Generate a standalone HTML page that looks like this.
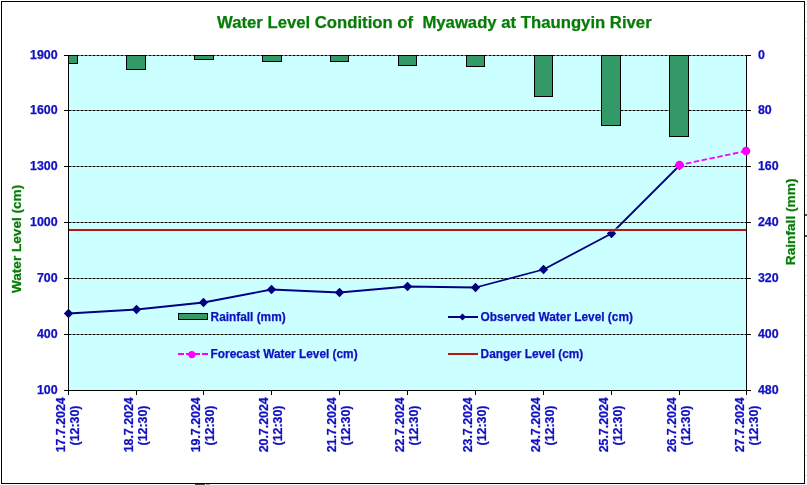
<!DOCTYPE html>
<html lang="en"><head><meta charset="utf-8"><title>Water Level Condition of Myawady at Thaungyin River</title>
<style>html,body{margin:0;padding:0;background:#fff;overflow:hidden}svg{display:block;will-change:transform}text{font-family:"Liberation Sans",sans-serif;font-weight:bold;stroke-width:0.25px;paint-order:stroke}</style>
</head><body>
<svg width="807" height="485" viewBox="0 0 807 485">
<rect x="0" y="0" width="807" height="485" fill="#fff"/>
<g shape-rendering="crispEdges">
<rect x="805" y="4" width="2" height="1" fill="#dcdcdc"/>
<rect x="805" y="21" width="2" height="1" fill="#dcdcdc"/>
<rect x="805" y="38" width="2" height="1" fill="#dcdcdc"/>
<rect x="805" y="55" width="2" height="1" fill="#dcdcdc"/>
<rect x="805" y="75" width="2" height="1" fill="#dcdcdc"/>
<rect x="805" y="95" width="2" height="1" fill="#dcdcdc"/>
<rect x="805" y="115" width="2" height="1" fill="#dcdcdc"/>
<rect x="805" y="135" width="2" height="1" fill="#dcdcdc"/>
<rect x="805" y="155" width="2" height="1" fill="#dcdcdc"/>
<rect x="805" y="175" width="2" height="1" fill="#dcdcdc"/>
<rect x="805" y="195" width="2" height="1" fill="#dcdcdc"/>
<rect x="805" y="255" width="2" height="1" fill="#dcdcdc"/>
<rect x="805" y="275" width="2" height="1" fill="#dcdcdc"/>
<rect x="805" y="295" width="2" height="1" fill="#dcdcdc"/>
<rect x="805" y="315" width="2" height="1" fill="#dcdcdc"/>
<rect x="805" y="335" width="2" height="1" fill="#dcdcdc"/>
<rect x="805" y="355" width="2" height="1" fill="#dcdcdc"/>
<rect x="805" y="375" width="2" height="1" fill="#dcdcdc"/>
<rect x="805" y="395" width="2" height="1" fill="#dcdcdc"/>
<rect x="805" y="415" width="2" height="1" fill="#dcdcdc"/>
<rect x="805" y="435" width="2" height="1" fill="#dcdcdc"/>
<rect x="805" y="455" width="2" height="1" fill="#dcdcdc"/>
<rect x="805" y="475" width="2" height="1" fill="#dcdcdc"/>
<rect x="805" y="214" width="2" height="2" fill="#1f6b55"/>
<rect x="805" y="235" width="2" height="2" fill="#1f6b55"/>
<rect x="195" y="484" width="10" height="1" fill="#444"/><rect x="206" y="484" width="4" height="1" fill="#aaa"/>
<rect x="1.5" y="1.5" width="803" height="482" fill="#fff" stroke="#000" stroke-width="1"/>
<rect x="68" y="55" width="679" height="336" fill="#ccffff"/>
<rect x="64" y="55" width="687" height="1" fill="#000" opacity="0.5"/>
<line x1="69" y1="55.5" x2="746" y2="55.5" stroke="#000" stroke-width="1" stroke-dasharray="2 2" stroke-dashoffset="0"/>
<rect x="64" y="55" width="7" height="1" fill="#000"/>
<rect x="746" y="55" width="5" height="1" fill="#000"/>
<rect x="64" y="110" width="687" height="1" fill="#000" opacity="0.5"/>
<line x1="69" y1="110.5" x2="746" y2="110.5" stroke="#000" stroke-width="1" stroke-dasharray="2 2" stroke-dashoffset="0"/>
<rect x="64" y="110" width="7" height="1" fill="#000"/>
<rect x="746" y="110" width="5" height="1" fill="#000"/>
<rect x="64" y="166" width="687" height="1" fill="#000" opacity="0.5"/>
<line x1="69" y1="166.5" x2="746" y2="166.5" stroke="#000" stroke-width="1" stroke-dasharray="2 2" stroke-dashoffset="0"/>
<rect x="64" y="166" width="7" height="1" fill="#000"/>
<rect x="746" y="166" width="5" height="1" fill="#000"/>
<rect x="64" y="222" width="687" height="1" fill="#000" opacity="0.5"/>
<line x1="69" y1="222.5" x2="746" y2="222.5" stroke="#000" stroke-width="1" stroke-dasharray="2 2" stroke-dashoffset="0"/>
<rect x="64" y="222" width="7" height="1" fill="#000"/>
<rect x="746" y="222" width="5" height="1" fill="#000"/>
<rect x="64" y="278" width="687" height="1" fill="#000" opacity="0.5"/>
<line x1="69" y1="278.5" x2="746" y2="278.5" stroke="#000" stroke-width="1" stroke-dasharray="2 2" stroke-dashoffset="0"/>
<rect x="64" y="278" width="7" height="1" fill="#000"/>
<rect x="746" y="278" width="5" height="1" fill="#000"/>
<rect x="64" y="334" width="687" height="1" fill="#000" opacity="0.5"/>
<line x1="69" y1="334.5" x2="746" y2="334.5" stroke="#000" stroke-width="1" stroke-dasharray="2 2" stroke-dashoffset="0"/>
<rect x="64" y="334" width="7" height="1" fill="#000"/>
<rect x="746" y="334" width="5" height="1" fill="#000"/>
</g>
<g shape-rendering="crispEdges">
<rect x="68.5" y="55.5" width="9" height="8" fill="#339966" stroke="#000" stroke-width="1"/>
<rect x="126.5" y="55.5" width="19" height="14" fill="#339966" stroke="#000" stroke-width="1"/>
<rect x="194.5" y="55.5" width="19" height="4" fill="#339966" stroke="#000" stroke-width="1"/>
<rect x="262.5" y="55.5" width="19" height="6" fill="#339966" stroke="#000" stroke-width="1"/>
<rect x="330.5" y="55.5" width="18" height="6" fill="#339966" stroke="#000" stroke-width="1"/>
<rect x="398.5" y="55.5" width="18" height="10" fill="#339966" stroke="#000" stroke-width="1"/>
<rect x="466.5" y="55.5" width="18" height="11" fill="#339966" stroke="#000" stroke-width="1"/>
<rect x="534.5" y="55.5" width="18" height="41" fill="#339966" stroke="#000" stroke-width="1"/>
<rect x="601.5" y="55.5" width="19" height="70" fill="#339966" stroke="#000" stroke-width="1"/>
<rect x="669.5" y="55.5" width="19" height="81" fill="#339966" stroke="#000" stroke-width="1"/>
<rect x="68" y="55" width="1" height="340" fill="#000"/>
<rect x="746" y="55" width="1" height="340" fill="#000"/>
<rect x="64" y="390" width="687" height="1" fill="#000"/>
<rect x="136" y="390" width="1" height="5" fill="#000"/>
<rect x="203" y="390" width="1" height="5" fill="#000"/>
<rect x="271" y="390" width="1" height="5" fill="#000"/>
<rect x="339" y="390" width="1" height="5" fill="#000"/>
<rect x="407" y="390" width="1" height="5" fill="#000"/>
<rect x="475" y="390" width="1" height="5" fill="#000"/>
<rect x="543" y="390" width="1" height="5" fill="#000"/>
<rect x="611" y="390" width="1" height="5" fill="#000"/>
<rect x="679" y="390" width="1" height="5" fill="#000"/>
</g>
<polyline fill="none" stroke="#000080" stroke-width="1.8" stroke-linejoin="round" points="68.5,313.5 136.5,309.5 203.5,302.5 271.5,289.5 339.5,292.5 407.5,286.5 475.5,287.5 543.5,269.5 611.5,233.5 679.5,165.5"/>
<path d="M63.8,313.5 L68.5,308.8 L73.2,313.5 L68.5,318.2Z" fill="#000080"/>
<path d="M131.8,309.5 L136.5,304.8 L141.2,309.5 L136.5,314.2Z" fill="#000080"/>
<path d="M198.8,302.5 L203.5,297.8 L208.2,302.5 L203.5,307.2Z" fill="#000080"/>
<path d="M266.8,289.5 L271.5,284.8 L276.2,289.5 L271.5,294.2Z" fill="#000080"/>
<path d="M334.8,292.5 L339.5,287.8 L344.2,292.5 L339.5,297.2Z" fill="#000080"/>
<path d="M402.8,286.5 L407.5,281.8 L412.2,286.5 L407.5,291.2Z" fill="#000080"/>
<path d="M470.8,287.5 L475.5,282.8 L480.2,287.5 L475.5,292.2Z" fill="#000080"/>
<path d="M538.8,269.5 L543.5,264.8 L548.2,269.5 L543.5,274.2Z" fill="#000080"/>
<path d="M606.8,233.5 L611.5,228.8 L616.2,233.5 L611.5,238.2Z" fill="#000080"/>
<path d="M674.8,165.5 L679.5,160.8 L684.2,165.5 L679.5,170.2Z" fill="#000080"/>
<g shape-rendering="crispEdges">
<rect x="69" y="228" width="677" height="4" fill="#ffe0e0" opacity="0.4"/>
<rect x="69" y="229" width="677" height="2" fill="#aa1c18"/>
</g>
<line x1="679.5" y1="165" x2="746" y2="151" stroke="#ff00ff" stroke-width="1.8" stroke-dasharray="5.5 2.5" stroke-dashoffset="1.4"/>
<circle cx="679.5" cy="165" r="4.3" fill="#ff00ff"/>
<circle cx="746" cy="151" r="4.3" fill="#ff00ff"/>
<g shape-rendering="crispEdges">
<rect x="178.5" y="313.5" width="29" height="6" fill="#339966" stroke="#000" stroke-width="1"/>
<rect x="448" y="316" width="30" height="2" fill="#000080"/>
<rect x="448" y="352" width="30" height="4" fill="#ffe0e0" opacity="0.4"/>
<rect x="448" y="353" width="30" height="2" fill="#aa1c18"/>
<rect x="178" y="353" width="6" height="2" fill="#ff00ff"/>
<rect x="186" y="353" width="6" height="2" fill="#ff00ff"/>
<rect x="194" y="353" width="6" height="2" fill="#ff00ff"/>
<rect x="202" y="353" width="6" height="2" fill="#ff00ff"/>
</g>
<path d="M459,317 L462.5,313.5 L466,317 L462.5,320.5Z" fill="#000080"/>
<circle cx="191.8" cy="354.6" r="3.6" fill="#ff00ff"/>
<text x="217" y="28.2" font-size="16.72" fill="#067c06" stroke="#067c06" text-anchor="start" xml:space="preserve">Water Level Condition of&#160; Myawady at Thaungyin River</text>
<text x="57.6" y="59.2" font-size="12.4" fill="#1010c2" stroke="#1010c2" text-anchor="end" >1900</text>
<text x="57.6" y="114.2" font-size="12.4" fill="#1010c2" stroke="#1010c2" text-anchor="end" >1600</text>
<text x="57.6" y="170.2" font-size="12.4" fill="#1010c2" stroke="#1010c2" text-anchor="end" >1300</text>
<text x="57.6" y="226.2" font-size="12.4" fill="#1010c2" stroke="#1010c2" text-anchor="end" >1000</text>
<text x="57.6" y="282.2" font-size="12.4" fill="#1010c2" stroke="#1010c2" text-anchor="end" >700</text>
<text x="57.6" y="338.2" font-size="12.4" fill="#1010c2" stroke="#1010c2" text-anchor="end" >400</text>
<text x="57.6" y="394.2" font-size="12.4" fill="#1010c2" stroke="#1010c2" text-anchor="end" >100</text>
<text x="757.9" y="59.2" font-size="12.4" fill="#1010c2" stroke="#1010c2" text-anchor="start" >0</text>
<text x="757.9" y="114.2" font-size="12.4" fill="#1010c2" stroke="#1010c2" text-anchor="start" >80</text>
<text x="757.9" y="170.2" font-size="12.4" fill="#1010c2" stroke="#1010c2" text-anchor="start" >160</text>
<text x="757.9" y="226.2" font-size="12.4" fill="#1010c2" stroke="#1010c2" text-anchor="start" >240</text>
<text x="757.9" y="282.2" font-size="12.4" fill="#1010c2" stroke="#1010c2" text-anchor="start" >320</text>
<text x="757.9" y="338.2" font-size="12.4" fill="#1010c2" stroke="#1010c2" text-anchor="start" >400</text>
<text x="757.9" y="394.2" font-size="12.4" fill="#1010c2" stroke="#1010c2" text-anchor="start" >480</text>
<text x="210.6" y="320.7" font-size="11.85" fill="#1010c2" stroke="#1010c2" text-anchor="start" >Rainfall (mm)</text>
<text x="210.6" y="357.7" font-size="11.85" fill="#1010c2" stroke="#1010c2" text-anchor="start" >Forecast Water Level (cm)</text>
<text x="480.6" y="320.7" font-size="11.85" fill="#1010c2" stroke="#1010c2" text-anchor="start" >Observed Water Level (cm)</text>
<text x="480.6" y="357.7" font-size="11.85" fill="#1010c2" stroke="#1010c2" text-anchor="start" >Danger Level (cm)</text>
<text transform="translate(21.2,238.9) rotate(-90)" font-size="13.6" fill="#067c06" stroke="#067c06" text-anchor="middle">Water Level (cm)</text>
<text transform="translate(794.5,221.9) rotate(-90)" font-size="13.7" fill="#067c06" stroke="#067c06" text-anchor="middle">Rainfall (mm)</text>
<text transform="translate(65,424.8) rotate(-90)" font-size="12.4" fill="#1010c2" stroke="#1010c2" text-anchor="middle">17.7.2024</text>
<text transform="translate(79.3,425.5) rotate(-90)" font-size="12.4" fill="#1010c2" stroke="#1010c2" text-anchor="middle">(12:30)</text>
<text transform="translate(133,424.8) rotate(-90)" font-size="12.4" fill="#1010c2" stroke="#1010c2" text-anchor="middle">18.7.2024</text>
<text transform="translate(147.3,425.5) rotate(-90)" font-size="12.4" fill="#1010c2" stroke="#1010c2" text-anchor="middle">(12:30)</text>
<text transform="translate(200,424.8) rotate(-90)" font-size="12.4" fill="#1010c2" stroke="#1010c2" text-anchor="middle">19.7.2024</text>
<text transform="translate(214.3,425.5) rotate(-90)" font-size="12.4" fill="#1010c2" stroke="#1010c2" text-anchor="middle">(12:30)</text>
<text transform="translate(268,424.8) rotate(-90)" font-size="12.4" fill="#1010c2" stroke="#1010c2" text-anchor="middle">20.7.2024</text>
<text transform="translate(282.3,425.5) rotate(-90)" font-size="12.4" fill="#1010c2" stroke="#1010c2" text-anchor="middle">(12:30)</text>
<text transform="translate(336,424.8) rotate(-90)" font-size="12.4" fill="#1010c2" stroke="#1010c2" text-anchor="middle">21.7.2024</text>
<text transform="translate(350.3,425.5) rotate(-90)" font-size="12.4" fill="#1010c2" stroke="#1010c2" text-anchor="middle">(12:30)</text>
<text transform="translate(404,424.8) rotate(-90)" font-size="12.4" fill="#1010c2" stroke="#1010c2" text-anchor="middle">22.7.2024</text>
<text transform="translate(418.3,425.5) rotate(-90)" font-size="12.4" fill="#1010c2" stroke="#1010c2" text-anchor="middle">(12:30)</text>
<text transform="translate(472,424.8) rotate(-90)" font-size="12.4" fill="#1010c2" stroke="#1010c2" text-anchor="middle">23.7.2024</text>
<text transform="translate(486.3,425.5) rotate(-90)" font-size="12.4" fill="#1010c2" stroke="#1010c2" text-anchor="middle">(12:30)</text>
<text transform="translate(540,424.8) rotate(-90)" font-size="12.4" fill="#1010c2" stroke="#1010c2" text-anchor="middle">24.7.2024</text>
<text transform="translate(554.3,425.5) rotate(-90)" font-size="12.4" fill="#1010c2" stroke="#1010c2" text-anchor="middle">(12:30)</text>
<text transform="translate(608,424.8) rotate(-90)" font-size="12.4" fill="#1010c2" stroke="#1010c2" text-anchor="middle">25.7.2024</text>
<text transform="translate(622.3,425.5) rotate(-90)" font-size="12.4" fill="#1010c2" stroke="#1010c2" text-anchor="middle">(12:30)</text>
<text transform="translate(676,424.8) rotate(-90)" font-size="12.4" fill="#1010c2" stroke="#1010c2" text-anchor="middle">26.7.2024</text>
<text transform="translate(690.3,425.5) rotate(-90)" font-size="12.4" fill="#1010c2" stroke="#1010c2" text-anchor="middle">(12:30)</text>
<text transform="translate(743.7,424.8) rotate(-90)" font-size="12.4" fill="#1010c2" stroke="#1010c2" text-anchor="middle">27.7.2024</text>
<text transform="translate(758.0,425.5) rotate(-90)" font-size="12.4" fill="#1010c2" stroke="#1010c2" text-anchor="middle">(12:30)</text>
</svg>
</body></html>
